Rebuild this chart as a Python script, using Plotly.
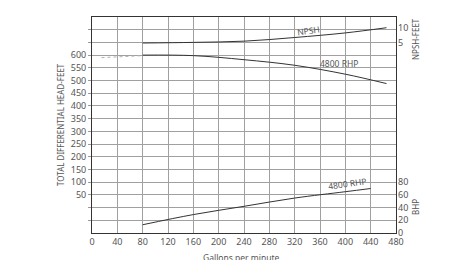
import plotly.graph_objects as go

# ---- data ----
gpm_head = [80, 160, 240, 320, 400, 465]
head_ft = [600, 598, 582, 560, 525, 488]

gpm_head_ext = [15, 50, 80]
head_ext = [590, 594, 598]

gpm_npsh = [80, 160, 240, 320, 400, 465]
npsh_ft = [5.0, 5.2, 5.6, 6.8, 8.3, 10.0]

gpm_bhp = [80, 160, 240, 320, 400, 440]
bhp = [13, 29, 42, 55, 65, 70]

x_ticks = list(range(0, 481, 40))
head_ticks = list(range(50, 601, 50))
npsh_ticks = [5, 10]
bhp_ticks = [0, 20, 40, 60, 80]

FONT = "Noto Sans"
TXT = "#555555"
LINE = "#333333"
GRID = "#a0a0a0"

fig = go.Figure()
fig.add_trace(go.Scatter(x=gpm_head_ext, y=head_ext, mode="lines",
                         line=dict(color="#b0b0b0", width=1, dash="dot"),
                         yaxis="y", showlegend=False, hoverinfo="skip"))
fig.add_trace(go.Scatter(x=gpm_head, y=head_ft, mode="lines",
                         line=dict(color=LINE, width=1, shape="spline"),
                         yaxis="y", showlegend=False))
fig.add_trace(go.Scatter(x=gpm_npsh, y=npsh_ft, mode="lines",
                         line=dict(color=LINE, width=1, shape="spline"),
                         yaxis="y2", showlegend=False))
fig.add_trace(go.Scatter(x=gpm_bhp, y=bhp, mode="lines",
                         line=dict(color=LINE, width=1, shape="spline"),
                         yaxis="y3", showlegend=False))

grid_vals = list(range(-50, 701, 50))
grid_text = [str(v) if v in head_ticks else "" for v in grid_vals]

fig.update_layout(
    width=462, height=260,
    margin=dict(l=92, r=66, t=17, b=27),
    paper_bgcolor="white", plot_bgcolor="white",
    font=dict(family=FONT, size=9, color=TXT),
    xaxis=dict(range=[0, 480], tickvals=x_ticks, showgrid=True,
               gridcolor=GRID, gridwidth=1, showline=True, mirror=True,
               linecolor=LINE, linewidth=1, zeroline=False, ticks="",
               tickfont=dict(size=9, color=TXT)),
    yaxis=dict(range=[-100, 750], tickvals=grid_vals, ticktext=grid_text,
               showgrid=True, gridcolor=GRID, gridwidth=1,
               showline=True, mirror=True, linecolor=LINE, linewidth=1,
               zeroline=False, ticks="outside", ticklen=3, tickcolor="#999999",
               tickfont=dict(size=9, color=TXT)),
    yaxis2=dict(range=[-57.1, 13.5], tickvals=npsh_ticks, overlaying="y",
                side="right", showgrid=False, zeroline=False, showline=False,
                ticklabelstandoff=1,
                tickfont=dict(size=9, color=TXT)),
    yaxis3=dict(range=[0, 340], tickvals=bhp_ticks, overlaying="y",
                side="right", showgrid=False, zeroline=False, showline=False,
                ticklabelstandoff=1,
                tickfont=dict(size=9, color=TXT)),
)

L, R, T, B = 92, 66, 17, 27
PW, PH = 462 - L - R, 260 - T - B

anns = [
    dict(text="TOTAL DIFFERENTIAL HEAD-FEET", x=60, y=125, textangle=-90, size=8),
    dict(text="NPSH-FEET", x=415, y=39, textangle=-90, size=8),
    dict(text="BHP", x=415, y=207, textangle=-90, size=8),
    dict(text="Gallons per minute", x=241, y=257, textangle=0, size=8.5),
    dict(text="NPSH", x=308, y=30, textangle=-8, size=8.5),
    dict(text="4800 RHP", x=339, y=63, textangle=0, size=8.5),
    dict(text="4800 RHP", x=347, y=183, textangle=-8, size=8.5),
]
for a in anns:
    fig.add_annotation(text=a["text"], x=(a["x"] - L) / PW, y=1 - (a["y"] - T) / PH,
                       xref="paper", yref="paper", showarrow=False,
                       textangle=a["textangle"], xanchor="center", yanchor="middle",
                       font=dict(family=FONT, size=a["size"], color=TXT))

fig.write_html("out.html")
